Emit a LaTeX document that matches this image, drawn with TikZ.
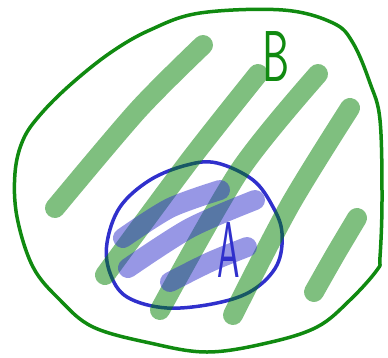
\documentclass[tikz,border=0pt]{standalone}
\usetikzlibrary{positioning}
\definecolor{setgreen}{HTML}{108A10}
\definecolor{hatchgreen}{HTML}{008000}
\definecolor{setblue}{HTML}{3030CC}
\tikzset{
  set outline/.style={line width=3.5pt, line join=round, line cap=round},
  hatch green/.style={draw=hatchgreen, draw opacity=0.5, line width=20pt, line cap=round},
  hatch blue/.style={draw=setblue, draw opacity=0.5, line width=20pt, line cap=round},
  set label/.style={inner sep=0pt, font=\sffamily\fontsize{72}{72}\selectfont}
}
\begin{document}
\begin{tikzpicture}[x=1pt, y=-1pt]
  \useasboundingbox (0,0) rectangle (388,357);
  % set B
  \draw [set outline, setgreen] plot [smooth cycle, tension=0.6] coordinates {
    (200,13) (283,10) (333,23) (353,43) (370,83) (380,120) (382,200)
    (380,257) (377,270) (350,300) (317,327) (267,343) (207,352) (150,343)
    (93,327) (60,300) (33,267) (17,217) (15,173) (23,140) (40,115)
    (70,85) (110,53) (150,30)};
  % set A
  \draw [set outline, setblue] plot [smooth cycle, tension=0.6] coordinates {
    (217,163) (253,180) (273,207) (282,233) (277,265) (253,290) (217,303)
    (167,308) (127,297) (110,273) (107,243) (120,207) (150,180) (187,165)};
  % hatching of B
  \draw [hatch green] plot [smooth] coordinates {(203,45) (138,110) (55,208)};
  \draw [hatch green] plot [smooth] coordinates {(258,74) (190,160) (105,275)};
  \draw [hatch green] plot [smooth] coordinates {(318,74) (240,170) (160,310)};
  \draw [hatch green] plot [smooth] coordinates {(350,108) (290,205) (233,315)};
  \draw [hatch green] plot [smooth] coordinates {(357,218) (335,255) (314,292)};
  % hatching of A
  \draw [hatch blue] plot [smooth] coordinates {(220,190) (170,208) (123,238)};
  \draw [hatch blue] plot [smooth] coordinates {(255,200) (190,228) (128,268)};
  \draw [hatch blue] plot [smooth] coordinates {(247,247) (210,262) (170,282)};
  % labels
  \node (labelB) [set label, text=setgreen, xscale=0.6] at (276,57) {B};
  \node (labelA) [set label, text=setblue, xscale=0.5, yscale=1.1] at (229,250) {A};
\end{tikzpicture}
\end{document}
